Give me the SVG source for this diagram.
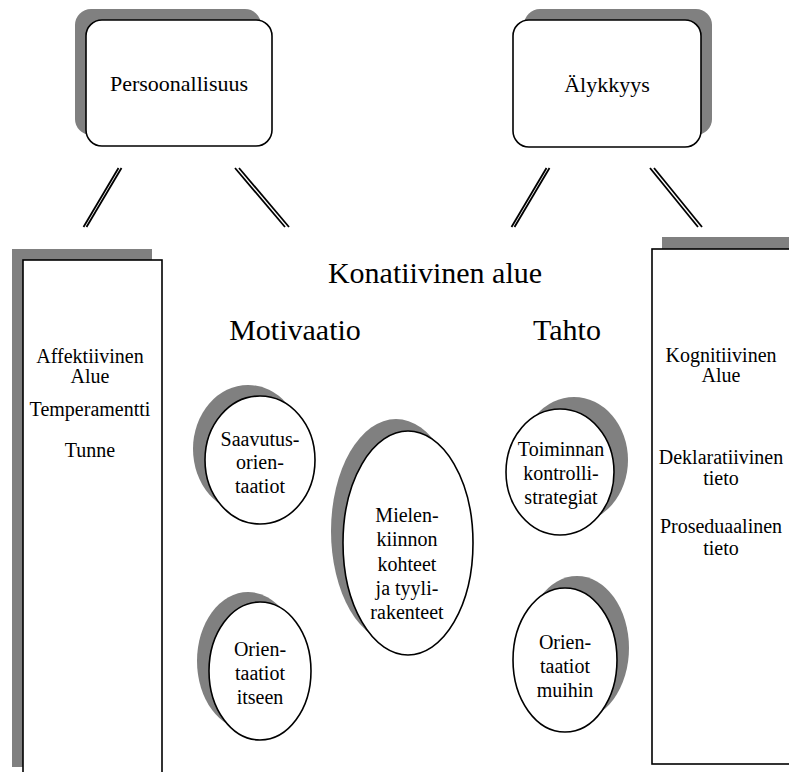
<svg xmlns="http://www.w3.org/2000/svg" width="789" height="772" viewBox="0 0 789 772">
  <style>
    .bg { fill: #ffffff; }
    .shadow { fill: #808080; stroke: none; }
    .shape { fill: #ffffff; stroke: #000000; stroke-width: 1.6; }
    .link { stroke: #000000; stroke-width: 1.8; fill: none; }
  </style>
  <rect class="bg" x="0" y="0" width="789" height="772"/>

  <!-- double-line connectors -->
  <g id="connectors">
    <line class="link" x1="118.5" y1="168" x2="83.5" y2="227"/>
    <line class="link" x1="121.5" y1="168" x2="86.5" y2="227"/>
    <line class="link" x1="235" y1="168" x2="285" y2="227"/>
    <line class="link" x1="239" y1="168" x2="289" y2="227"/>
    <line class="link" x1="546.5" y1="168" x2="511.5" y2="227"/>
    <line class="link" x1="549.5" y1="168" x2="514.5" y2="227"/>
    <line class="link" x1="650" y1="168" x2="698" y2="227"/>
    <line class="link" x1="654" y1="168" x2="702" y2="227"/>
  </g>

  <g id="persoonallisuus">
    <rect class="shadow" x="75" y="9" width="186" height="126" rx="16"/>
    <rect class="shape" x="86" y="20" width="186" height="126" rx="16"/>
    <text font-family="Liberation Serif" font-size="22" text-anchor="middle" x="179" y="91">Persoonallisuus</text>
  </g>

  <g id="alykkyys">
    <rect class="shadow" x="524" y="9" width="188" height="126" rx="16"/>
    <rect class="shape" x="513" y="20" width="188" height="127" rx="16"/>
    <text font-family="Liberation Serif" font-size="22" text-anchor="middle" x="607" y="92">Älykkyys</text>
  </g>

  <g id="affektiivinen">
    <rect class="shadow" x="12" y="249" width="140" height="518"/>
    <rect class="shape" x="23" y="260" width="139" height="530"/>
    <text font-family="Liberation Serif" font-size="20" text-anchor="middle" x="90" y="363">Affektiivinen</text>
    <text font-family="Liberation Serif" font-size="20" text-anchor="middle" x="90" y="383">Alue</text>
    <text font-family="Liberation Serif" font-size="20" text-anchor="middle" x="90" y="416">Temperamentti</text>
    <text font-family="Liberation Serif" font-size="20" text-anchor="middle" x="90" y="457">Tunne</text>
  </g>

  <g id="kognitiivinen">
    <rect class="shadow" x="662" y="237" width="140" height="520"/>
    <rect class="shape" x="652" y="249" width="150" height="515"/>
    <text font-family="Liberation Serif" font-size="20" text-anchor="middle" x="721" y="362">Kognitiivinen</text>
    <text font-family="Liberation Serif" font-size="20" text-anchor="middle" x="721" y="382">Alue</text>
    <text font-family="Liberation Serif" font-size="20" text-anchor="middle" x="721" y="464">Deklaratiivinen</text>
    <text font-family="Liberation Serif" font-size="20" text-anchor="middle" x="721" y="485">tieto</text>
    <text font-family="Liberation Serif" font-size="20" text-anchor="middle" x="721" y="533">Proseduaalinen</text>
    <text font-family="Liberation Serif" font-size="20" text-anchor="middle" x="721" y="555">tieto</text>
  </g>

  <g id="konatiivinen">
    <text font-family="Liberation Serif" font-size="30" text-anchor="middle" x="435" y="283">Konatiivinen alue</text>
  </g>
  <g id="motivaatio">
    <text font-family="Liberation Serif" font-size="30" text-anchor="middle" x="295" y="340">Motivaatio</text>
  </g>
  <g id="tahto">
    <text font-family="Liberation Serif" font-size="30" text-anchor="middle" x="567" y="340">Tahto</text>
  </g>

  <g id="saavutus">
    <ellipse class="shadow" cx="248" cy="449" rx="55" ry="64"/>
    <ellipse class="shape" cx="260" cy="460" rx="55" ry="64"/>
    <text font-family="Liberation Serif" font-size="20" text-anchor="middle" x="260" y="446">Saavutus-</text>
    <text font-family="Liberation Serif" font-size="20" text-anchor="middle" x="260" y="469">orien-</text>
    <text font-family="Liberation Serif" font-size="20" text-anchor="middle" x="260" y="493">taatiot</text>
  </g>

  <g id="mielenkiinto">
    <ellipse class="shadow" cx="396" cy="531" rx="65" ry="112"/>
    <ellipse class="shape" cx="408" cy="543" rx="65" ry="112"/>
    <text font-family="Liberation Serif" font-size="20" text-anchor="middle" x="407" y="522">Mielen-</text>
    <text font-family="Liberation Serif" font-size="20" text-anchor="middle" x="407" y="546">kiinnon</text>
    <text font-family="Liberation Serif" font-size="20" text-anchor="middle" x="407" y="571">kohteet</text>
    <text font-family="Liberation Serif" font-size="20" text-anchor="middle" x="407" y="595">ja tyyli-</text>
    <text font-family="Liberation Serif" font-size="20" text-anchor="middle" x="407" y="619">rakenteet</text>
  </g>

  <g id="toiminnan">
    <ellipse class="shadow" cx="574" cy="460" rx="54" ry="63"/>
    <ellipse class="shape" cx="560" cy="472" rx="54" ry="63"/>
    <text font-family="Liberation Serif" font-size="20" text-anchor="middle" x="561" y="456">Toiminnan</text>
    <text font-family="Liberation Serif" font-size="20" text-anchor="middle" x="561" y="480">kontrolli-</text>
    <text font-family="Liberation Serif" font-size="20" text-anchor="middle" x="561" y="504">strategiat</text>
  </g>

  <g id="itseen">
    <ellipse class="shadow" cx="248" cy="661" rx="51" ry="69"/>
    <ellipse class="shape" cx="260" cy="671" rx="51" ry="69"/>
    <text font-family="Liberation Serif" font-size="20" text-anchor="middle" x="260" y="656">Orien-</text>
    <text font-family="Liberation Serif" font-size="20" text-anchor="middle" x="260" y="680">taatiot</text>
    <text font-family="Liberation Serif" font-size="20" text-anchor="middle" x="260" y="704">itseen</text>
  </g>

  <g id="muihin">
    <ellipse class="shadow" cx="577" cy="648" rx="52" ry="72"/>
    <ellipse class="shape" cx="565" cy="660" rx="52" ry="72"/>
    <text font-family="Liberation Serif" font-size="20" text-anchor="middle" x="565" y="649">Orien-</text>
    <text font-family="Liberation Serif" font-size="20" text-anchor="middle" x="565" y="673">taatiot</text>
    <text font-family="Liberation Serif" font-size="20" text-anchor="middle" x="565" y="697">muihin</text>
  </g>
</svg>
